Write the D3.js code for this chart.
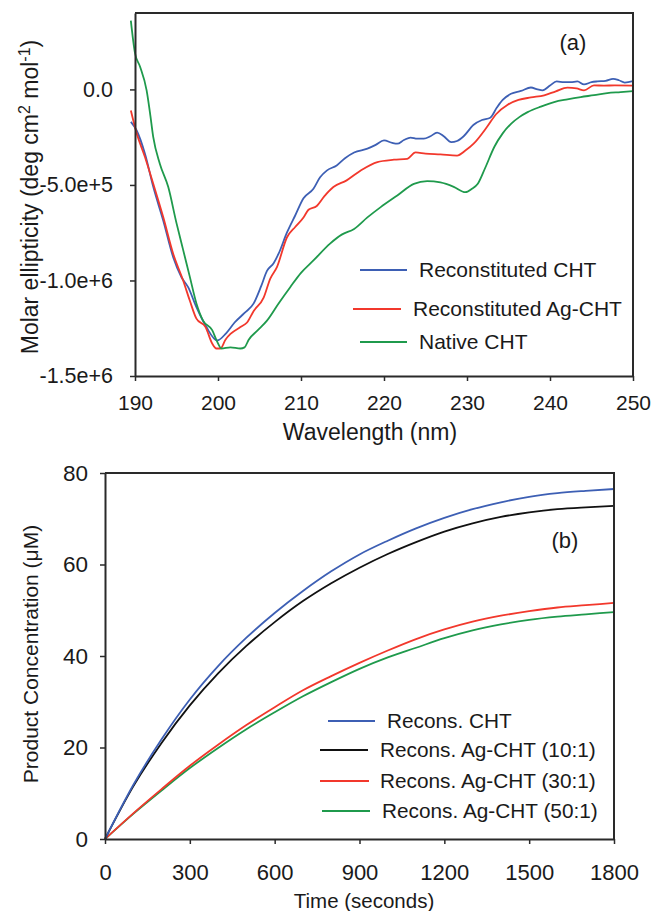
<!DOCTYPE html>
<html>
<head>
<meta charset="utf-8">
<script src="https://cdn.jsdelivr.net/npm/d3@7"></script>
<style>
  body { margin: 0; background: #fff; }
  svg { display: block; font-family: "Liberation Sans", Arial, sans-serif; }
</style>
</head>
<body>
<div id="chart"></div>
<script>
// ---- Panel (a): CD spectra, ellipticity in units of 1e5 deg cm2 mol-1 ----
const reconCHT = [
  [189.5,-1.7],[190.2,-2.15],[191.2,-3.37],[192.2,-5.1],[193.4,-6.86],[194.6,-8.78],[195.6,-9.83],
  [196.4,-10.35],[197.4,-11.4],[198.6,-12.44],[199.9,-13.14],[201.0,-12.75],[202.0,-12.2],[203.2,-11.7],
  [204.3,-11.2],[205.2,-10.3],[205.9,-9.5],[206.7,-9.1],[207.3,-8.6],[208.3,-7.5],[209.3,-6.6],
  [210.3,-5.7],[211.5,-5.2],[212.3,-4.6],[213.1,-4.25],[214.3,-3.98],[215.3,-3.6],[216.4,-3.3],
  [218.0,-3.1],[219.0,-2.9],[220.0,-2.67],[221.0,-2.8],[221.6,-2.84],[222.4,-2.65],[223.2,-2.52],
  [224.0,-2.58],[224.8,-2.58],[225.6,-2.45],[226.4,-2.26],[227.2,-2.45],[228.1,-2.76],[228.8,-2.7],
  [229.6,-2.45],[230.8,-1.85],[231.8,-1.6],[232.8,-1.48],[233.6,-0.95],[234.3,-0.55],[235.3,-0.23],
  [236.5,-0.08],[237.7,0.1],[238.5,0.0],[239.1,-0.05],[240.0,0.2],[240.8,0.42],[241.7,0.38],
  [242.5,0.38],[243.3,0.42],[244.1,0.26],[245.0,0.38],[245.7,0.42],[246.7,0.45],[247.6,0.55],
  [248.3,0.48],[249.0,0.36],[250.0,0.43]
];
const reconAgCHT = [
  [189.5,-1.1],[190.2,-2.3],[191.2,-3.54],[192.2,-4.94],[193.4,-6.68],[194.6,-8.6],[195.8,-10.0],
  [196.6,-11.05],[197.4,-12.0],[198.5,-12.44],[199.3,-13.3],[199.8,-13.56],[200.3,-13.56],[200.9,-13.1],
  [201.5,-12.8],[202.7,-12.44],[203.5,-12.2],[204.3,-11.6],[205.5,-10.9],[206.3,-9.9],[207.1,-9.3],
  [208.3,-7.75],[209.3,-7.2],[210.3,-6.7],[210.9,-6.3],[211.9,-6.1],[212.8,-5.6],[213.9,-5.11],
  [215.5,-4.76],[217.2,-4.24],[219.2,-3.8],[221.2,-3.68],[222.8,-3.63],[223.8,-3.3],[225.0,-3.36],
  [226.8,-3.4],[228.8,-3.46],[229.8,-3.2],[230.8,-2.84],[232.4,-1.97],[233.5,-1.3],[234.9,-0.8],
  [236.2,-0.55],[237.7,-0.42],[239.3,-0.31],[240.7,-0.1],[242.1,0.09],[243.2,0.05],[244.1,-0.05],
  [245.3,0.21],[246.5,0.2],[247.8,0.21],[250.0,0.2]
];
const nativeCHT = [
  [189.5,3.6],[190.0,1.9],[190.6,1.2],[191.4,-0.05],[191.8,-1.2],[192.2,-2.5],[193.0,-3.9],
  [194.0,-5.1],[195.0,-7.0],[195.8,-8.4],[196.6,-9.8],[197.4,-11.2],[198.2,-12.1],[199.3,-12.6],
  [199.9,-13.2],[200.4,-13.56],[201.5,-13.5],[202.7,-13.56],[203.2,-13.5],[203.7,-13.1],[204.8,-12.6],
  [205.9,-12.1],[207.3,-11.2],[208.7,-10.35],[210.0,-9.6],[211.5,-8.95],[213.5,-8.07],[214.9,-7.6],
  [216.4,-7.3],[218.0,-6.7],[219.6,-6.16],[221.6,-5.55],[223.6,-4.94],[225.2,-4.8],[226.8,-4.87],
  [228.4,-5.1],[229.8,-5.38],[230.6,-5.2],[231.3,-4.94],[232.2,-4.1],[233.3,-3.0],[234.3,-2.3],
  [235.3,-1.8],[236.3,-1.45],[237.3,-1.19],[238.9,-0.9],[240.5,-0.66],[242.1,-0.52],[243.7,-0.40],
  [245.3,-0.3],[246.9,-0.19],[248.5,-0.14],[250.0,-0.09]
];
const cdXTicks = [190, 200, 210, 220, 230, 240, 250];
const cdYTicks = [0, -5, -10, -15];
const cdYTickLabels = ["0.0", "-5.0e+5", "-1.0e+6", "-1.5e+6"];
const cdNames = ["Reconstituted CHT", "Reconstituted Ag-CHT", "Native CHT"];

// ---- Panel (b): product concentration (uM) vs time (s) ----
const timeSec = [0,100,200,300,400,500,600,700,800,900,1000,1100,1200,1300,1400,1500,1600,1700,1800];
const concRecons = [0,11.8,21.8,30.5,37.8,44.0,49.4,54.2,58.5,62.2,65.2,67.9,70.2,72.1,73.6,74.8,75.6,76.1,76.5];
const concAg10 = [0,11.5,21.0,29.2,36.2,42.2,47.4,52.0,55.9,59.3,62.3,64.9,67.2,69.0,70.4,71.4,72.1,72.5,72.8];
const concAg30 = [0,5.6,10.9,16.0,20.6,24.9,28.8,32.5,35.6,38.5,41.2,43.7,45.8,47.5,48.8,49.8,50.6,51.1,51.6];
const concAg50 = [0,5.5,10.6,15.5,19.9,24.0,27.7,31.2,34.3,37.2,39.7,41.8,43.9,45.6,46.9,47.9,48.6,49.1,49.6];
const kinXTicks = [0, 300, 600, 900, 1200, 1500, 1800];
const kinYTicks = [0, 20, 40, 60, 80];
const kinNames = ["Recons. CHT", "Recons. Ag-CHT (10:1)", "Recons. Ag-CHT (30:1)", "Recons. Ag-CHT (50:1)"];

const BLUE = "#3d5fb4", RED = "#f2382c", GREEN = "#1f9a4c", BLACK = "#111";
const AXIS = "#2a2a2a";

const svg = d3.select("#chart").append("svg").attr("width", 652).attr("height", 911);
svg.append("rect").attr("width", 652).attr("height", 911).attr("fill", "#fff");

function styleAxis(g, fontSize) {
  g.select(".domain").attr("stroke", AXIS).attr("stroke-width", 2);
  g.selectAll(".tick line").attr("stroke", AXIS).attr("stroke-width", 1.5);
  g.selectAll(".tick text").attr("fill", "#1a1a1a").style("font-size", fontSize + "px");
}

// ============ Panel (a) ============
{
  const L = 135, R = 633, T = 13, B = 376;
  const x = d3.scaleLinear().domain([190, 250]).range([L, R]);
  const y = d3.scaleLinear().domain([-15, 4]).range([B, T]);

  const line = d3.line().x(d => x(d[0])).y(d => y(d[1])).curve(d3.curveMonotoneX);
  [[reconCHT, BLUE], [reconAgCHT, RED], [nativeCHT, GREEN]].forEach(([data, c]) => {
    svg.append("path").datum(data).attr("fill", "none").attr("stroke", c)
      .attr("stroke-width", 1.8).attr("d", line);
  });

  // frame
  svg.append("path").attr("fill", "none").attr("stroke", AXIS).attr("stroke-width", 2)
    .attr("d", `M${L},${T}H${R}V${B}`);

  const gx = svg.append("g").attr("transform", `translate(0,${B})`)
    .call(d3.axisBottom(x).tickValues(cdXTicks).tickSize(5).tickSizeOuter(0));
  styleAxis(gx, 21);
  gx.selectAll(".tick text").attr("y", 34).attr("dy", 0);

  const gy = svg.append("g").attr("transform", `translate(${L},0)`)
    .call(d3.axisLeft(y).tickValues(cdYTicks).tickSize(5).tickSizeOuter(0).tickPadding(17)
      .tickFormat((d, i) => cdYTickLabels[i]));
  styleAxis(gy, 21.5);

  svg.append("text").attr("x", 370).attr("y", 440).attr("text-anchor", "middle")
    .style("font-size", "23px").attr("fill", "#1a1a1a").text("Wavelength (nm)");

  const yt = svg.append("text").attr("transform", "translate(38,197) rotate(-90)")
    .attr("text-anchor", "middle").style("font-size", "23px").attr("fill", "#1a1a1a");
  yt.append("tspan").text("Molar ellipticity (deg cm");
  yt.append("tspan").attr("dy", -8).style("font-size", "16px").text("2");
  yt.append("tspan").attr("dy", 8).text(" mol");
  yt.append("tspan").attr("dy", -8).style("font-size", "16px").text("-1");
  yt.append("tspan").attr("dy", 8).text(")");

  svg.append("text").attr("x", 573).attr("y", 50).attr("text-anchor", "middle")
    .style("font-size", "22px").attr("fill", "#1a1a1a").text("(a)");

  const leg = [
    { name: cdNames[0], c: BLUE, y: 270, x1: 360, x2: 407, tx: 419 },
    { name: cdNames[1], c: RED, y: 309, x1: 353, x2: 401, tx: 413 },
    { name: cdNames[2], c: GREEN, y: 342, x1: 360, x2: 407, tx: 419 }
  ];
  leg.forEach(d => {
    svg.append("line").attr("x1", d.x1).attr("x2", d.x2).attr("y1", d.y).attr("y2", d.y)
      .attr("stroke", d.c).attr("stroke-width", 2);
    svg.append("text").attr("x", d.tx).attr("y", d.y).attr("dy", "0.35em")
      .style("font-size", "21px").attr("fill", "#1a1a1a").text(d.name);
  });
}

// ============ Panel (b) ============
{
  const L = 105, R = 614, T = 473, B = 839;
  const x = d3.scaleLinear().domain([0, 1800]).range([L, R]);
  const y = d3.scaleLinear().domain([0, 80]).range([B, T]);

  const line = d3.line().x((d, i) => x(timeSec[i])).y(d => y(d)).curve(d3.curveMonotoneX);
  [[concAg50, GREEN], [concAg30, RED], [concAg10, BLACK], [concRecons, BLUE]].forEach(([data, c]) => {
    svg.append("path").datum(data).attr("fill", "none").attr("stroke", c)
      .attr("stroke-width", 1.8).attr("d", line);
  });

  svg.append("path").attr("fill", "none").attr("stroke", AXIS).attr("stroke-width", 2)
    .attr("d", `M${L},${T}H${R}V${B}`);

  const gx = svg.append("g").attr("transform", `translate(0,${B})`)
    .call(d3.axisBottom(x).tickValues(kinXTicks).tickSize(5).tickSizeOuter(0).tickFormat(d3.format("d")));
  styleAxis(gx, 22);
  gx.selectAll(".tick text").attr("y", 41).attr("dy", 0);

  const gy = svg.append("g").attr("transform", `translate(${L},0)`)
    .call(d3.axisLeft(y).tickValues(kinYTicks).tickSize(5).tickSizeOuter(0).tickPadding(12));
  styleAxis(gy, 22.5);

  svg.append("text").attr("x", 364).attr("y", 908).attr("text-anchor", "middle")
    .style("font-size", "20.5px").attr("fill", "#1a1a1a").text("Time (seconds)");

  svg.append("text").attr("transform", "translate(38,654) rotate(-90)")
    .attr("text-anchor", "middle").style("font-size", "21px").attr("fill", "#1a1a1a")
    .text("Product Concentration (\u03BCM)");

  svg.append("text").attr("x", 565).attr("y", 548).attr("text-anchor", "middle")
    .style("font-size", "22px").attr("fill", "#1a1a1a").text("(b)");

  const leg = [
    { name: kinNames[0], c: BLUE, y: 721, x1: 328, x2: 375, tx: 387 },
    { name: kinNames[1], c: BLACK, y: 750, x1: 320, x2: 368, tx: 380 },
    { name: kinNames[2], c: RED, y: 781, x1: 320, x2: 369, tx: 380 },
    { name: kinNames[3], c: GREEN, y: 811, x1: 322, x2: 370, tx: 382 }
  ];
  leg.forEach(d => {
    svg.append("line").attr("x1", d.x1).attr("x2", d.x2).attr("y1", d.y).attr("y2", d.y)
      .attr("stroke", d.c).attr("stroke-width", 2);
    svg.append("text").attr("x", d.tx).attr("y", d.y).attr("dy", "0.35em")
      .style("font-size", "20.8px").attr("fill", "#1a1a1a").text(d.name);
  });
}
</script>
</body>
</html>
